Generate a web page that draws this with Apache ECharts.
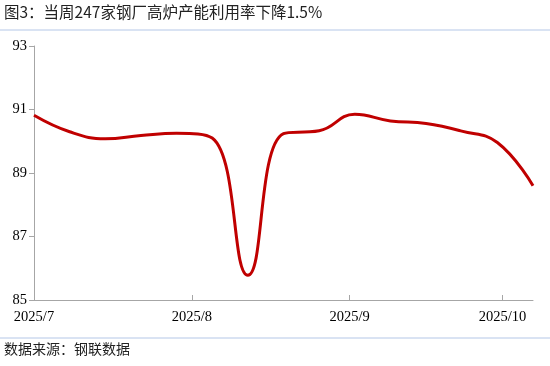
<!DOCTYPE html>
<html>
<head>
<meta charset="utf-8">
<script src="https://cdn.jsdelivr.net/npm/echarts@6/dist/echarts.min.js"></script>
<style>html,body{margin:0;padding:0;background:#fff}#c{width:550px;height:366px}</style>
</head>
<body>
<div id="c"></div>
<script>
var titleText = '图3：当周247家钢厂高炉产能利用率下降1.5%';
var sourceText = '数据来源：钢联数据';
var dates = ['2025-07-03','2025-07-10','2025-07-17','2025-07-24','2025-07-31','2025-08-07','2025-08-14','2025-08-21','2025-08-28','2025-09-04','2025-09-11','2025-09-18','2025-09-25','2025-10-02','2025-10-09'];
var values = [90.82, 90.30, 90.08, 90.18, 90.25, 90.10, 85.78, 90.24, 90.33, 90.85, 90.64, 90.56, 90.32, 89.96, 88.60];
var tickDates = ['2025-07-03','2025-08-03','2025-09-03','2025-10-03'];
var tickLabels = ['2025/7','2025/8','2025/9','2025/10'];
var yTicks = [85, 87, 89, 91, 93];

var DAY = 86400000;
var ts = function(d){ return Date.UTC(+d.slice(0,4), +d.slice(5,7)-1, +d.slice(8,10)); };
var t0 = ts(dates[0]);
var dayOf = function(d){ return Math.round((ts(d) - t0) / DAY); };
var tickDays = tickDates.map(dayOf);
var chart = echarts.init(document.getElementById('c'));
chart.setOption({
  animation: false,
  backgroundColor: '#fff',
  grid: {left: 34, right: 17, top: 46, bottom: 66, containLabel: false},
  xAxis: {
    type: 'value',
    min: 0,
    max: dayOf(dates[dates.length-1]),
    axisLine: {show: true, lineStyle: {color: '#a6a6a6', width: 1}},
    axisTick: {show: true, inside: true, length: 5, lineStyle: {color: '#a6a6a6'}, customValues: tickDays},
    axisLabel: {
      customValues: tickDays,
      formatter: function(v){ var i = tickDays.indexOf(Math.round(v)); return i >= 0 ? tickLabels[i] : ''; },
      color: '#000', fontFamily: 'Liberation Serif', fontSize: 14.5, margin: 10
    },
    splitLine: {show: false}
  },
  yAxis: {
    type: 'value',
    min: yTicks[0], max: yTicks[yTicks.length-1], interval: 2,
    axisLine: {show: true, lineStyle: {color: '#a6a6a6', width: 1}},
    axisTick: {show: true, inside: false, length: 5, lineStyle: {color: '#a6a6a6'}},
    axisLabel: {color: '#000', fontFamily: 'Liberation Serif', fontSize: 14.5, margin: 7},
    splitLine: {show: false}
  },
  series: [{
    type: 'line',
    data: dates.map(function(d, i){ return [dayOf(d), values[i]]; }),
    smooth: 0.45,
    symbol: 'none',
    lineStyle: {color: '#c00000', width: 3}
  }],
  graphic: [
    {type: 'text', left: 4, top: 4, style: {text: titleText, fill: '#222', font: '15.5px "Noto Sans CJK SC"'}},
    {type: 'line', shape: {x1: 0, y1: 30, x2: 550, y2: 30}, style: {stroke: '#b4c7e7', lineWidth: 1}},
    {type: 'line', shape: {x1: 0, y1: 338, x2: 550, y2: 338}, style: {stroke: '#b4c7e7', lineWidth: 1}},
    {type: 'text', left: 4, top: 342, style: {text: sourceText, fill: '#222', font: '14px "Noto Sans CJK SC"'}}
  ]
});
</script>
</body>
</html>
